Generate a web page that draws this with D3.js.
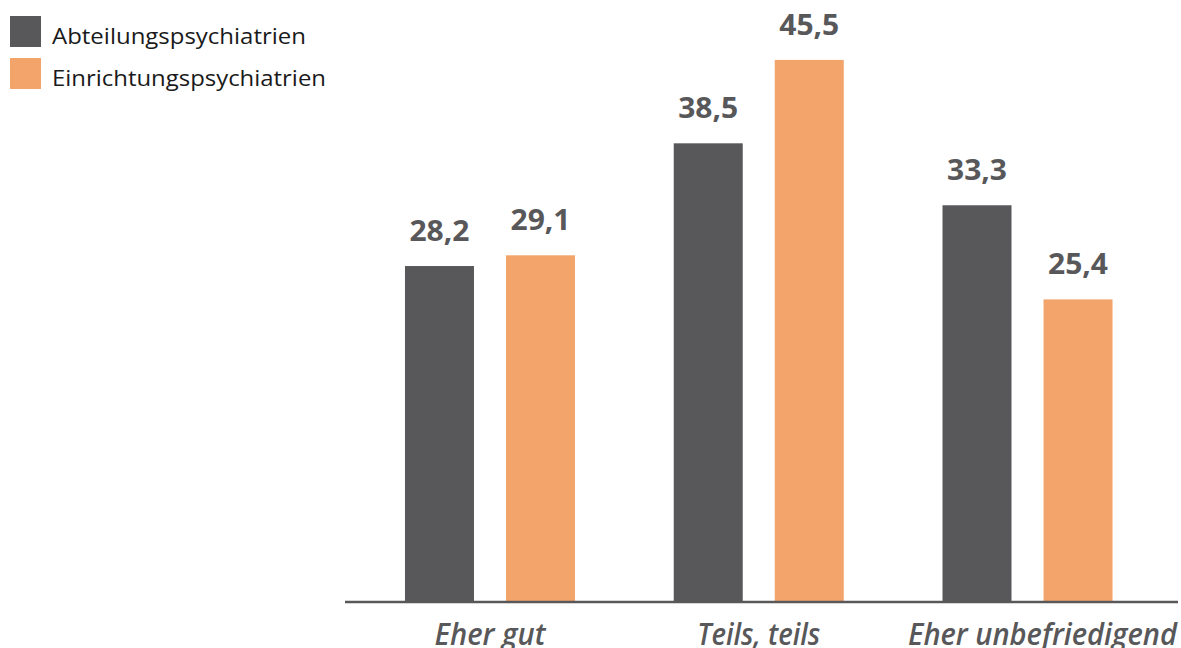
<!DOCTYPE html>
<html>
<head>
<meta charset="utf-8">
<script src="https://cdn.jsdelivr.net/npm/d3@7"></script>
<style>
  html, body { margin: 0; padding: 0; background: #ffffff; }
  svg { display: block; }
</style>
</head>
<body>
<svg id="chart" width="1181" height="648"></svg>
<script>
// Zufriedenheit nach Psychiatrietyp (Angaben in Prozent)
const categories = ["Eher gut", "Teils, teils", "Eher unbefriedigend"];
const seriesNames = ["Abteilungspsychiatrien", "Einrichtungspsychiatrien"];
const abteilung = [28.2, 38.5, 33.3];
const einrichtung = [29.1, 45.5, 25.4];
const colors = ["#58585a", "#f3a46a"];

const rows = categories.map((c, i) => ({ category: c, values: [abteilung[i], einrichtung[i]] }));

const svg = d3.select("#chart");
const baseY = 602;
const axisRight = 1178;

const x0 = d3.scaleBand()
  .domain(categories)
  .range([355.6, 1161.9])
  .paddingInner(0.3674)
  .paddingOuter(0.1837);

const x1 = d3.scaleBand()
  .domain(seriesNames)
  .range([0, x0.bandwidth()])
  .paddingInner(0.317)
  .paddingOuter(0);

const y = d3.scaleLinear().domain([0, 50]).range([baseY, 6.3]);

const fmt = v => v.toFixed(1).replace(".", ",");

// Balken
const groups = svg.append("g").selectAll("g")
  .data(rows)
  .join("g")
  .attr("transform", d => `translate(${x0(d.category)},0)`);

groups.selectAll("rect")
  .data(d => d.values.map((v, j) => ({ name: seriesNames[j], value: v, j })))
  .join("rect")
  .attr("x", d => x1(d.name))
  .attr("y", d => y(d.value))
  .attr("width", x1.bandwidth())
  .attr("height", d => baseY - y(d.value))
  .attr("fill", d => colors[d.j]);

// Wertebeschriftungen
groups.selectAll("text.val")
  .data(d => d.values.map((v, j) => ({ name: seriesNames[j], value: v, j })))
  .join("text")
  .attr("class", "val")
  .attr("x", d => x1(d.name) + x1.bandwidth() / 2)
  .attr("y", d => y(d.value) - 25)
  .attr("text-anchor", "middle")
  .attr("font-family", "'Open Sans', sans-serif")
  .attr("font-weight", 700)
  .attr("font-size", 28)
  .attr("fill", "#58585a")
  .attr("textLength", 60)
  .attr("lengthAdjust", "spacingAndGlyphs")
  .text(d => fmt(d.value));

// x-Achse
const xAxis = d3.axisBottom(x0).tickSize(0).tickPadding(0);
const axisG = svg.append("g")
  .attr("transform", `translate(0,${baseY})`)
  .call(xAxis);
axisG.select(".domain").remove();
axisG.append("line")
  .attr("x1", 345).attr("x2", axisRight)
  .attr("y1", 0).attr("y2", 0)
  .attr("stroke", "#58585a")
  .attr("stroke-width", 2.5);

const catWidths = { "Eher gut": 111, "Teils, teils": 123, "Eher unbefriedigend": 269 };
axisG.selectAll(".tick text")
  .attr("y", 43)
  .attr("dy", 0)
  .attr("font-family", "'Open Sans', sans-serif")
  .attr("font-style", "italic")
  .attr("font-weight", 600)
  .attr("font-size", 30)
  .attr("fill", "#58585a")
  .attr("textLength", d => catWidths[d])
  .attr("lengthAdjust", "spacingAndGlyphs");

// letzte Kategorie bündig mit dem rechten Achsenende
axisG.selectAll(".tick")
  .filter(d => d === categories[categories.length - 1])
  .select("text")
  .attr("text-anchor", "end")
  .attr("x", function (d) {
    const center = x0(d) + x0.bandwidth() / 2;
    return axisRight - 1 - center;
  });

// Legende
const legend = svg.append("g");
const legendWidths = [254, 274];
seriesNames.forEach((name, i) => {
  const g = legend.append("g").attr("transform", `translate(10,${16 + i * 42})`);
  g.append("rect").attr("width", 31).attr("height", 31).attr("fill", colors[i]);
  g.append("text")
    .attr("x", 42)
    .attr("y", 28)
    .attr("font-family", "'Open Sans', sans-serif")
    .attr("font-size", 22)
    .attr("fill", "#1a1a1a")
    .attr("textLength", legendWidths[i])
    .attr("lengthAdjust", "spacingAndGlyphs")
    .text(name);
});
</script>
</body>
</html>
